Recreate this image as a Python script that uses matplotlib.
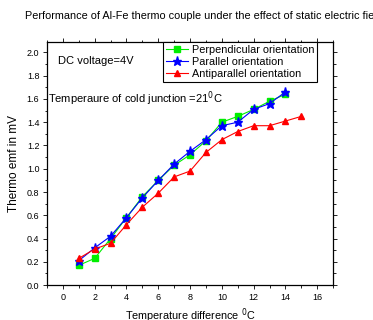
import matplotlib
matplotlib.use('Agg')
import matplotlib.pyplot as plt
from matplotlib.ticker import MultipleLocator, FormatStrFormatter

plt.rcParams['font.family'] = ['Liberation Sans', 'DejaVu Sans']

# temperature difference (deg C) vs thermo emf (mV)
dt_perp = [1, 2, 3, 4, 5, 6, 7, 8, 9, 10, 11, 12, 13, 14]
emf_perp = [0.17, 0.23, 0.40, 0.58, 0.76, 0.90, 1.03, 1.12, 1.24, 1.40, 1.45, 1.51, 1.58, 1.64]

dt_par = [1, 2, 3, 4, 5, 6, 7, 8, 9, 10, 11, 12, 13, 14]
emf_par = [0.21, 0.32, 0.42, 0.58, 0.75, 0.90, 1.04, 1.15, 1.25, 1.37, 1.40, 1.51, 1.56, 1.66]

dt_anti = [1, 2, 3, 4, 5, 6, 7, 8, 9, 10, 11, 12, 13, 14, 15]
emf_anti = [0.23, 0.31, 0.36, 0.52, 0.67, 0.79, 0.93, 0.98, 1.14, 1.25, 1.32, 1.37, 1.37, 1.41, 1.45]

fig = plt.figure(figsize=(3.73, 3.2), dpi=100)
ax = fig.add_axes([0.126, 0.109, 0.767, 0.760])

ax.plot(dt_perp, emf_perp, color='#00ee00', marker='s', ms=4, lw=0.8,
        label='Perpendicular orientation')
ax.plot(dt_par, emf_par, color='#0000ff', marker='*', ms=6.5, lw=0.8,
        label='Parallel orientation')
ax.plot(dt_anti, emf_anti, color='#ff0000', marker='^', ms=5, lw=0.8,
        label='Antiparallel orientation')

ax.set_xlim(-1, 17)
ax.set_ylim(0, 2.09)
ax.xaxis.set_major_locator(MultipleLocator(2))
ax.xaxis.set_minor_locator(MultipleLocator(1))
ax.yaxis.set_major_locator(MultipleLocator(0.2))
ax.yaxis.set_minor_locator(MultipleLocator(0.1))
ax.yaxis.set_major_formatter(FormatStrFormatter('%.1f'))
ax.tick_params(which='both', direction='out', labelsize=6.5, width=0.6,
               top=True, right=True, pad=2.5)
ax.tick_params(which='major', length=3)
ax.tick_params(which='minor', length=1.8)
for s in ax.spines.values():
    s.set_linewidth(0.9)

ax.set_xlabel('Temperature difference $^0$C', fontsize=7.8, labelpad=3)
ax.set_ylabel('Thermo emf in mV', fontsize=8.5, labelpad=5)

ax.text(0.04, 0.92, 'DC voltage=4V', transform=ax.transAxes, fontsize=8,
        va='center')
ax.text(0.003, 0.765, 'Temperaure of cold junction =21$^0$C',
        transform=ax.transAxes, fontsize=8, va='center')

leg = ax.legend(loc='upper right', bbox_to_anchor=(0.945, 1.0), fontsize=7.8,
                fancybox=False, framealpha=1, edgecolor='black',
                borderpad=0.25, labelspacing=0.2, handlelength=2.0,
                handletextpad=0.4, borderaxespad=0)
leg.get_frame().set_linewidth(0.8)

fig.text(0.067, 0.95, 'Performance of Al-Fe thermo couple under the effect of static electric field',
         fontsize=7.8, va='center')

fig.savefig('out.png', dpi=100)
